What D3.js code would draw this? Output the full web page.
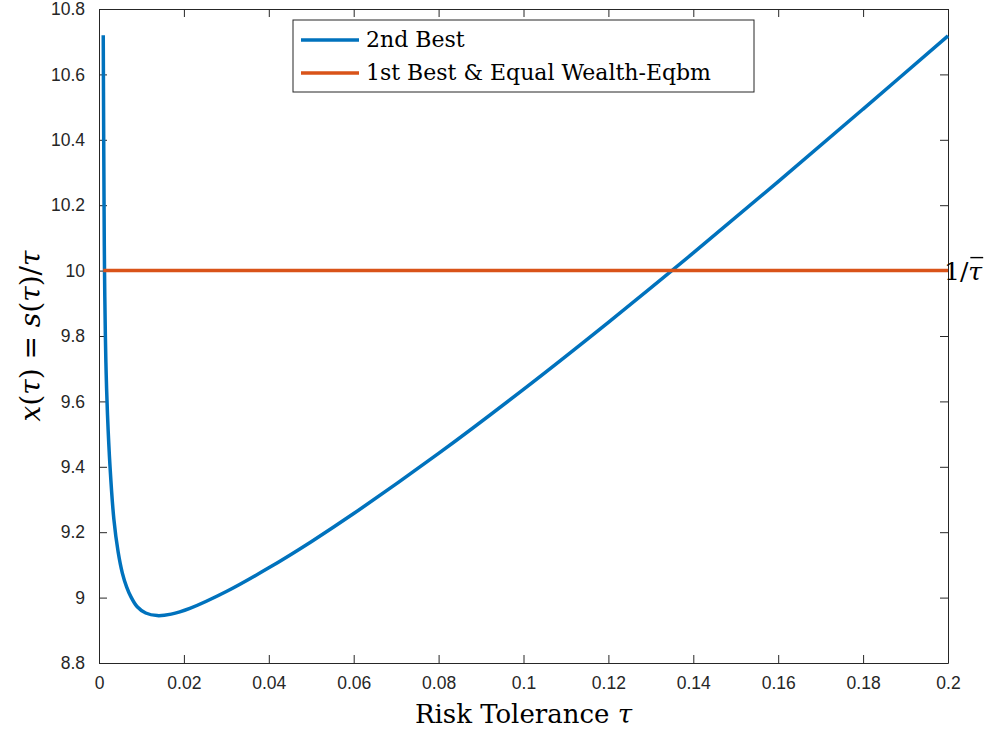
<!DOCTYPE html>
<html>
<head>
<meta charset="utf-8">
<script src="https://cdn.jsdelivr.net/npm/d3@7"></script>
<style>
  body { margin: 0; background: #fff; }
  .tick text { font-family: "Liberation Sans", Arial, sans-serif; font-size: 17.5px; fill: #262626; }
  .serif { font-family: "DejaVu Serif", "Liberation Serif", serif; fill: #000; }
</style>
</head>
<body>
<div id="chart"></div>
<script>
// tau values and x(tau) for the 2nd best curve
const tau = [0.001, 0.0011, 0.0012, 0.0013, 0.0015, 0.0017, 0.002, 0.0026, 0.0035, 0.0045,
             0.0055, 0.0065, 0.0075, 0.009, 0.011, 0.0137, 0.017, 0.0214, 0.03, 0.04,
             0.05, 0.06, 0.08, 0.1, 0.12, 0.14, 0.16, 0.18, 0.2];
const secondBest = [10.72, 10.42, 10.18, 10.0, 9.8, 9.68, 9.56, 9.4, 9.24, 9.14,
                    9.075, 9.033, 9.003, 8.972, 8.953, 8.945, 8.9495, 8.967, 9.0185, 9.091,
                    9.171, 9.257, 9.441, 9.637, 9.842, 10.054, 10.272, 10.494, 10.718];
const firstBest = [10, 10];
const firstBestTau = [0.001, 0.2];

const xTicks = [0, 0.02, 0.04, 0.06, 0.08, 0.1, 0.12, 0.14, 0.16, 0.18, 0.2];
const yTicks = [8.8, 9, 9.2, 9.4, 9.6, 9.8, 10, 10.2, 10.4, 10.6, 10.8];
const legendLabels = ["2nd Best", "1st Best & Equal Wealth-Eqbm"];
const colors = ["#0072BD", "#D95319"];

const W = 1006, H = 730;
const margin = {top: 9, right: 58, bottom: 67, left: 99};
const width = W - margin.left - margin.right;
const height = H - margin.top - margin.bottom;

const svg = d3.select("#chart").append("svg")
    .attr("width", W)
    .attr("height", H);

const g = svg.append("g")
    .attr("transform", "translate(" + margin.left + "," + margin.top + ")");

const x = d3.scaleLinear().domain([0, 0.2]).range([0, width]);
const y = d3.scaleLinear().domain([8.8, 10.8]).range([height, 0]);

// axes with inward ticks, box on all sides
const fmt = d => String(+d.toFixed(2));
const axisColor = "#262626";

function styleAxis(sel) {
    sel.selectAll(".domain").attr("stroke", axisColor);
    sel.selectAll(".tick line").attr("stroke", axisColor);
}

g.append("g")
    .attr("transform", "translate(0," + height + ")")
    .call(d3.axisBottom(x).tickValues(xTicks).tickFormat(fmt).tickSizeInner(-8).tickSizeOuter(0).tickPadding(14))
    .call(styleAxis);
g.append("g")
    .call(d3.axisTop(x).tickValues(xTicks).tickFormat("").tickSizeInner(-8).tickSizeOuter(0))
    .call(styleAxis);
g.append("g")
    .call(d3.axisLeft(y).tickValues(yTicks).tickFormat(fmt).tickSizeInner(-8).tickSizeOuter(0).tickPadding(14))
    .call(styleAxis);
g.append("g")
    .attr("transform", "translate(" + width + ",0)")
    .call(d3.axisRight(y).tickValues(yTicks).tickFormat("").tickSizeInner(-8).tickSizeOuter(0))
    .call(styleAxis);

// lines
const line = d3.line()
    .x(d => x(d[0]))
    .y(d => y(d[1]))
    .curve(d3.curveCatmullRom.alpha(0.5));

g.append("path")
    .datum(tau.map((t, i) => [t, secondBest[i]]))
    .attr("fill", "none")
    .attr("stroke", colors[0])
    .attr("stroke-width", 3.5)
    .attr("d", line);

g.append("path")
    .datum(firstBestTau.map((t, i) => [t, firstBest[i]]))
    .attr("fill", "none")
    .attr("stroke", colors[1])
    .attr("stroke-width", 3.5)
    .attr("d", line);

// 1/tau-bar label at right edge
const lab = g.append("text")
    .attr("class", "serif")
    .attr("x", width - 4)
    .attr("y", y(10) + 9)
    .style("font-size", "25px");
lab.append("tspan").text("1/");
const tb = lab.append("tspan").style("font-style", "italic").text("τ");
const lw = lab.node().getComputedTextLength();
const tw = tb.node().getComputedTextLength();
g.append("line")
    .attr("x1", width - 4 + lw - tw + 2).attr("x2", width - 4 + lw + 1)
    .attr("y1", y(10) - 13).attr("y2", y(10) - 13)
    .attr("stroke", "#000").attr("stroke-width", 1.4);

// legend
const legend = svg.append("g").attr("transform", "translate(293,20)");
legend.append("rect")
    .attr("width", 461).attr("height", 72)
    .attr("fill", "#fff").attr("stroke", axisColor).attr("stroke-width", 1);
legendLabels.forEach((lbl, i) => {
    const ly = 20 + i * 33;
    legend.append("line")
        .attr("x1", 8).attr("x2", 66)
        .attr("y1", ly).attr("y2", ly)
        .attr("stroke", colors[i]).attr("stroke-width", 3.5);
    legend.append("text")
        .attr("class", "serif")
        .attr("x", 73).attr("y", ly + 7)
        .style("font-size", "22px")
        .text(lbl);
});

// axis labels
const xl = svg.append("text")
    .attr("class", "serif")
    .attr("x", margin.left + width / 2)
    .attr("y", 723)
    .attr("text-anchor", "middle")
    .style("font-size", "26px");
xl.append("tspan").text("Risk Tolerance ");
xl.append("tspan").style("font-style", "italic").text("τ");

const yl = svg.append("text")
    .attr("class", "serif")
    .attr("transform", "translate(40," + (margin.top + height / 2) + ") rotate(-90)")
    .attr("text-anchor", "middle")
    .style("font-size", "28px");
yl.append("tspan").style("font-style", "italic").text("x");
yl.append("tspan").text("(");
yl.append("tspan").style("font-style", "italic").text("τ");
yl.append("tspan").text(")  =  ");
yl.append("tspan").style("font-style", "italic").text("s");
yl.append("tspan").text("(");
yl.append("tspan").style("font-style", "italic").text("τ");
yl.append("tspan").text(")/");
yl.append("tspan").style("font-style", "italic").text("τ");
</script>
</body>
</html>
